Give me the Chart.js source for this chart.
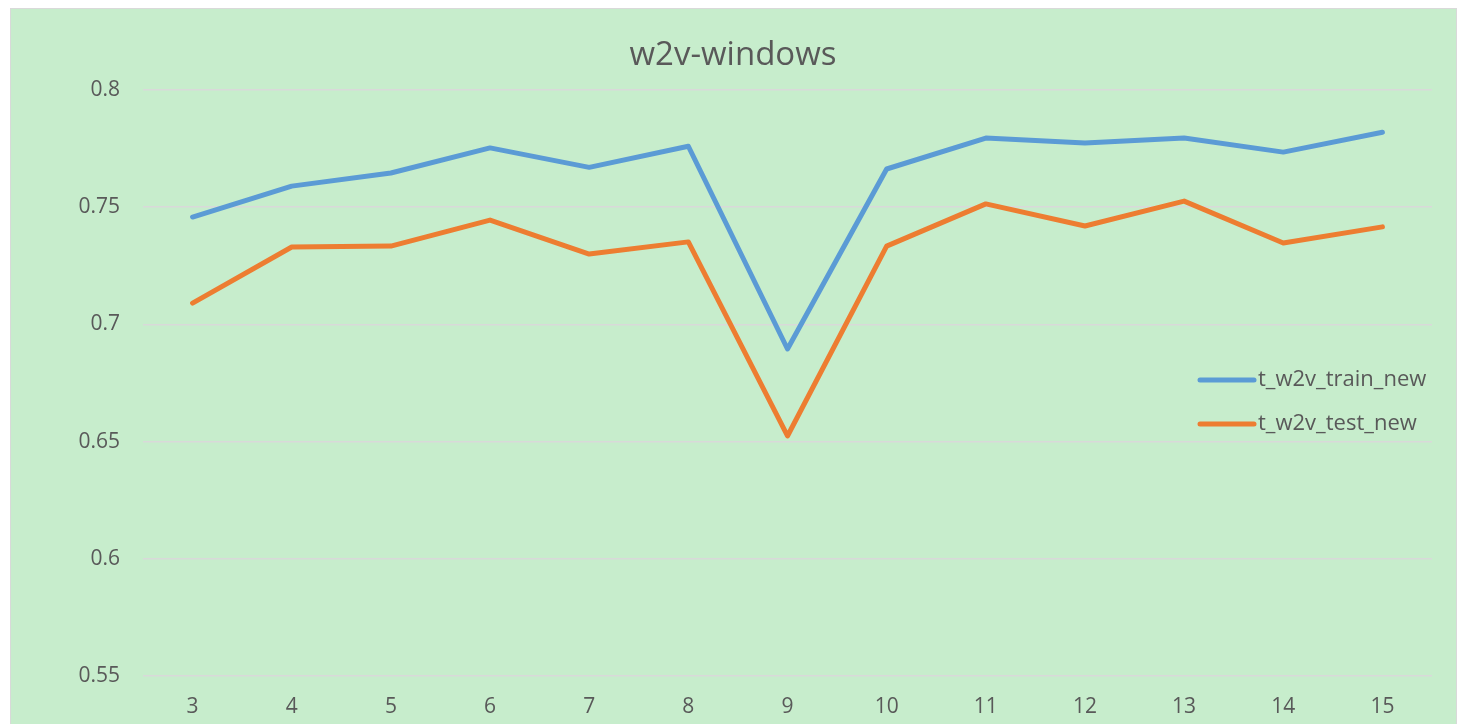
<!DOCTYPE html>
<html>
<head>
<meta charset="utf-8">
<script src="https://cdn.jsdelivr.net/npm/chart.js@4"></script>
<style>
html,body{margin:0;padding:0;background:#fff;}
#wrap{position:relative;width:1466px;height:724px;}
canvas{display:block;}
</style>
</head>
<body>
<div id="wrap"><canvas id="c" width="1466" height="724"></canvas></div>
<script>
const categories = ["3","4","5","6","7","8","9","10","11","12","13","14","15"];
const trainValues = [0.7458,0.759,0.7646,0.7753,0.767,0.776,0.6895,0.7663,0.7795,0.7774,0.7795,0.7735,0.782];
const testValues  = [0.7091,0.733,0.7334,0.7445,0.730,0.7352,0.6524,0.7334,0.7514,0.742,0.7526,0.7347,0.7416];
const yTicks = [0.55,0.6,0.65,0.7,0.75,0.8];
const titleText = "w2v-windows";
const seriesNames = ["t_w2v_train_new","t_w2v_test_new"];

const FONT = "'Open Sans', 'Liberation Sans', sans-serif";
const TEXT = "#595959";

const bgPlugin = {
  id: "bg",
  beforeDraw(chart) {
    const ctx = chart.ctx;
    ctx.save();
    ctx.fillStyle = "#ffffff";
    ctx.fillRect(0, 0, chart.width, chart.height);
    ctx.fillStyle = "#C7EDCC";
    ctx.fillRect(10, 8, 1447, 716);
    ctx.strokeStyle = "#D9D9D9";
    ctx.lineWidth = 1;
    ctx.strokeRect(10.5, 8.5, 1446, 720);
    ctx.restore();
  }
};

const titleLegendPlugin = {
  id: "titleLegend",
  afterDraw(chart) {
    const ctx = chart.ctx;
    ctx.save();
    ctx.fillStyle = TEXT;
    ctx.font = "33px " + FONT;
    ctx.textAlign = "center";
    ctx.textBaseline = "middle";
    ctx.fillText(titleText, 733, 56);
    const x0 = 1200, x1 = 1254;
    const ys = [380, 424];
    ctx.font = "22px " + FONT;
    ctx.textAlign = "left";
    ctx.textBaseline = "middle";
    chart.data.datasets.forEach((ds, i) => {
      ctx.strokeStyle = ds.borderColor;
      ctx.lineWidth = 5;
      ctx.lineCap = "round";
      ctx.beginPath();
      ctx.moveTo(x0, ys[i]);
      ctx.lineTo(x1, ys[i]);
      ctx.stroke();
      ctx.fillStyle = TEXT;
      ctx.fillText(ds.label, 1258, ys[i]);
    });
    ctx.restore();
  }
};

new Chart(document.getElementById("c"), {
  type: "line",
  data: {
    labels: categories,
    datasets: [
      { label: seriesNames[0], data: trainValues, borderColor: "#5B9BD5", backgroundColor: "#5B9BD5",
        borderWidth: 5, pointRadius: 0, tension: 0, borderCapStyle: "round", borderJoinStyle: "round" },
      { label: seriesNames[1], data: testValues, borderColor: "#ED7D31", backgroundColor: "#ED7D31",
        borderWidth: 5, pointRadius: 0, tension: 0, borderCapStyle: "round", borderJoinStyle: "round" }
    ]
  },
  options: {
    responsive: false,
    animation: false,
    layout: { padding: { left: 0, right: 34, top: 90, bottom: 0 } },
    plugins: { legend: { display: false }, title: { display: false }, tooltip: { enabled: false } },
    scales: {
      x: {
        offset: true,
        grid: { display: false, drawTicks: false },
        border: { display: false },
        ticks: { color: TEXT, font: { family: FONT, size: 21 }, padding: 18, maxRotation: 0 },
        afterFit(s) { s.height = 48; }
      },
      y: {
        min: 0.55, max: 0.8,
        afterBuildTicks(s) { s.ticks = yTicks.map(v => ({ value: v })); },
        grid: { color: "#D9D9D9", lineWidth: 1.5, drawTicks: false },
        border: { display: false },
        ticks: { color: TEXT, font: { family: FONT, size: 21 }, padding: 23,
          callback: v => String(parseFloat(v.toFixed(2))) },
        afterFit(s) { s.width = 143; }
      }
    }
  },
  plugins: [bgPlugin, titleLegendPlugin]
});
</script>
</body>
</html>
